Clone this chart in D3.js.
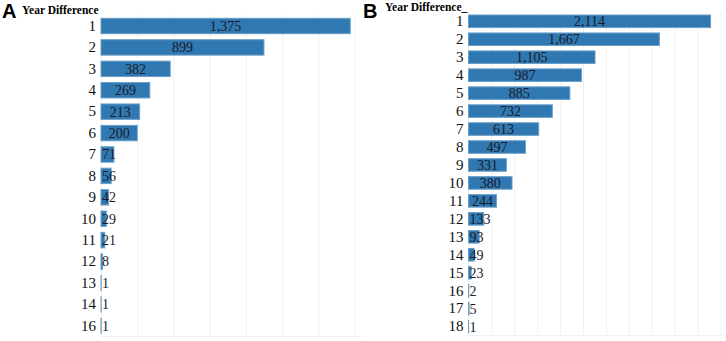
<!DOCTYPE html>
<html>
<head>
<meta charset="utf-8">
<script src="https://cdn.jsdelivr.net/npm/d3@7"></script>
<style>
    body { margin: 0; background: #fff; }
    svg { display: block; }
</style>
</head>
<body>
<svg id="chart" width="726" height="341"></svg>
<script>
// panel A data
const yearsA = ['1', '2', '3', '4', '5', '6', '7', '8', '9', '10', '11', '12', '13', '14', '16'];
const countsA = [1375, 899, 382, 269, 213, 200, 71, 56, 42, 29, 21, 8, 1, 1, 1];

// panel B data
const yearsB = ['1', '2', '3', '4', '5', '6', '7', '8', '9', '10', '11', '12', '13', '14', '15', '16', '17', '18'];
const countsB = [2114, 1667, 1105, 987, 885, 732, 613, 497, 331, 380, 244, 133, 93, 49, 23, 2, 5, 1];

const gridTicksA = [0, 200, 400, 600, 800, 1000, 1200, 1400];
const gridTicksB = [0, 200, 400, 600, 800, 1000, 1200, 1400, 1600, 1800, 2000, 2200];

const BAR_FILL = '#2f78b1';
const BAR_STROKE = '#6b9fc9';

const svg = d3.select('#chart');

function drawPanel(cfg) {
    const g = svg.append('g');
    const data = cfg.cats.map((c, i) => ({cat: c, value: cfg.values[i]}));

    const xScale = d3.scaleLinear()
        .domain([0, cfg.xMax])
        .range([cfg.left, cfg.right]);

    const yScale = d3.scaleBand()
        .domain(cfg.cats)
        .range([cfg.top, cfg.bottom])
        .paddingInner(cfg.pad)
        .paddingOuter(cfg.pad / 2);

    // faint gridlines
    g.append('g')
        .attr('transform', `translate(0, ${cfg.bottom})`)
        .call(d3.axisBottom(xScale).tickValues(cfg.grid).tickSize(-(cfg.bottom - cfg.top)).tickFormat(''))
        .call(a => a.select('.domain').remove())
        .call(a => a.selectAll('.tick line').attr('stroke', '#f1f1f1'));

    // bottom line
    g.append('line')
        .attr('x1', cfg.left).attr('x2', cfg.right)
        .attr('y1', cfg.bottom).attr('y2', cfg.bottom)
        .attr('stroke', '#f1f1f1');

    // bars
    g.append('g')
        .selectAll('rect')
        .data(data)
        .join('rect')
        .attr('x', xScale(0))
        .attr('y', d => yScale(d.cat))
        .attr('width', d => Math.max(0, xScale(d.value) - xScale(0)))
        .attr('height', yScale.bandwidth())
        .attr('fill', BAR_FILL)
        .attr('stroke', BAR_STROKE)
        .attr('stroke-width', 1);

    // category axis
    g.append('g')
        .attr('transform', `translate(${cfg.left - 3}, 0)`)
        .call(d3.axisLeft(yScale).tickSize(0).tickPadding(2))
        .call(a => a.select('.domain').remove())
        .call(a => a.selectAll('.tick text')
            .attr('font-family', 'Liberation Serif, Times New Roman, serif')
            .attr('font-size', cfg.catSize)
            .attr('fill', '#111'));

    // value labels: centered in the bar, pushed right when the bar is too narrow
    g.append('g')
        .selectAll('text')
        .data(data)
        .join('text')
        .attr('y', d => yScale(d.cat) + yScale.bandwidth() / 2)
        .attr('dy', '0.35em')
        .attr('text-anchor', 'middle')
        .attr('font-family', 'Liberation Serif, Times New Roman, serif')
        .attr('font-size', cfg.valSize)
        .attr('fill', '#1a1a2a')
        .text(d => d3.format(',')(d.value))
        .each(function(d) {
            const w = this.getComputedTextLength();
            const mid = (xScale(0) + xScale(d.value)) / 2;
            d3.select(this).attr('x', Math.max(mid, xScale(0) + 1 + w / 2));
        });

    // panel letter + title
    svg.append('text')
        .attr('x', cfg.letterX).attr('y', cfg.letterY)
        .attr('font-family', 'Liberation Sans, Arial, sans-serif')
        .attr('font-weight', 'bold')
        .attr('font-size', 20)
        .text(cfg.letter);

    svg.append('text')
        .attr('x', cfg.titleX).attr('y', cfg.titleY)
        .attr('font-family', 'Liberation Serif, Times New Roman, serif')
        .attr('font-weight', 'bold')
        .attr('font-size', 11.5)
        .text(cfg.title);
}

drawPanel({
    cats: yearsA, values: countsA, grid: gridTicksA,
    xMax: 1440, left: 101, right: 362, top: 15.3, bottom: 336.5, pad: 0.28,
    catSize: 15, valSize: 14,
    letter: 'A', letterX: 2, letterY: 18,
    title: 'Year Difference', titleX: 22, titleY: 13.5
});

drawPanel({
    cats: yearsB, values: countsB, grid: gridTicksB,
    xMax: 2240, left: 468.5, right: 725, top: 12.3, bottom: 335.6, pad: 0.3,
    catSize: 15, valSize: 14,
    letter: 'B', letterX: 363, letterY: 18,
    title: 'Year Difference_', titleX: 385, titleY: 11
});
</script>
</body>
</html>
